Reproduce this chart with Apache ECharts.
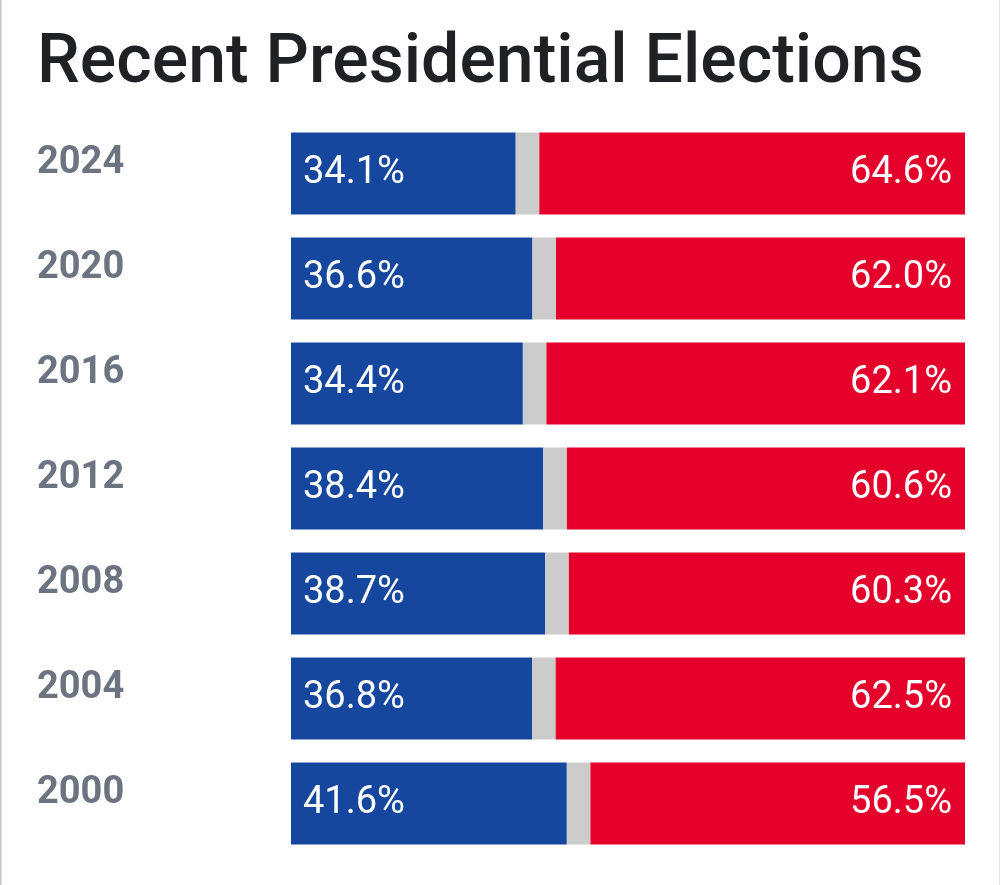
<!DOCTYPE html>
<html>
<head>
<meta charset="utf-8">
<script src="https://cdn.jsdelivr.net/npm/echarts@6/dist/echarts.min.js"></script>
<style>
html,body{margin:0;padding:0;background:#fff;}
#chart{width:1000px;height:885px;}
</style>
</head>
<body>
<div id="chart"></div>
<script>
// Data
const years = ['2024', '2020', '2016', '2012', '2008', '2004', '2000'];
const dem = [34.1, 36.6, 34.4, 38.4, 38.7, 36.8, 41.6];
const rep = [64.6, 62.0, 62.1, 60.6, 60.3, 62.5, 56.5];
const other = [1.3, 1.4, 3.5, 1.0, 1.0, 0.7, 1.9];
const MIN_OTHER_SHARE = 3.5; // gray segment is shown with at least this share

// Display shares: gray gets at least the minimum share, blue/red share the rest
const demShown = [], otherShown = [], repShown = [];
years.forEach(function (y, i) {
  const g = Math.max(other[i], MIN_OTHER_SHARE);
  const k = (100 - g) / (dem[i] + rep[i]);
  demShown.push(dem[i] * k);
  otherShown.push(g);
  repShown.push(rep[i] * k);
});

const FONT = 'Roboto, "Noto Sans", sans-serif';
const chart = echarts.init(document.getElementById('chart'), null, {renderer: 'canvas'});
chart.setOption({
  animation: false,
  backgroundColor: '#ffffff',
  title: {
    text: 'Recent Presidential Elections',
    left: 37,
    top: 31,
    padding: 0,
    textStyle: {fontFamily: FONT, fontSize: 68, fontWeight: 500, color: '#202124'}
  },
  grid: {left: 291, right: 35, top: 121, height: 735},
  xAxis: {type: 'value', min: 0, max: 100, show: false},
  yAxis: {
    type: 'category',
    data: years,
    inverse: true,
    axisLine: {show: false},
    axisTick: {show: false},
    splitLine: {show: false},
    axisLabel: {
      align: 'left',
      verticalAlign: 'bottom',
      lineHeight: 20,
      margin: 254,
      fontFamily: FONT,
      fontSize: 38,
      fontWeight: 'bold',
      color: '#6b7480'
    }
  },
  series: [
    {
      name: 'Democratic', type: 'bar', stack: 'total', barWidth: 82,
      data: demShown,
      itemStyle: {color: '#15479e'},
      label: {
        show: true, position: 'insideLeft', distance: 12,
        fontFamily: FONT, fontSize: 38, color: '#ffffff',
        formatter: function (p) { return dem[p.dataIndex].toFixed(1) + '%'; }
      }
    },
    {
      name: 'Other', type: 'bar', stack: 'total', barWidth: 82,
      data: otherShown,
      itemStyle: {color: '#cccccc'}
    },
    {
      name: 'Republican', type: 'bar', stack: 'total', barWidth: 82,
      data: repShown,
      itemStyle: {color: '#e4002b'},
      label: {
        show: true, position: 'insideRight', distance: 13,
        fontFamily: FONT, fontSize: 38, color: '#ffffff',
        formatter: function (p) { return rep[p.dataIndex].toFixed(1) + '%'; }
      }
    }
  ],
  graphic: [
    {type: 'rect', left: 0, top: 0, shape: {width: 1.5, height: 885}, style: {fill: '#c4c4c4'}, silent: true},
    {type: 'rect', right: 0, top: 0, shape: {width: 1, height: 885}, style: {fill: '#e6e6e6'}, silent: true}
  ]
});
</script>
</body>
</html>
